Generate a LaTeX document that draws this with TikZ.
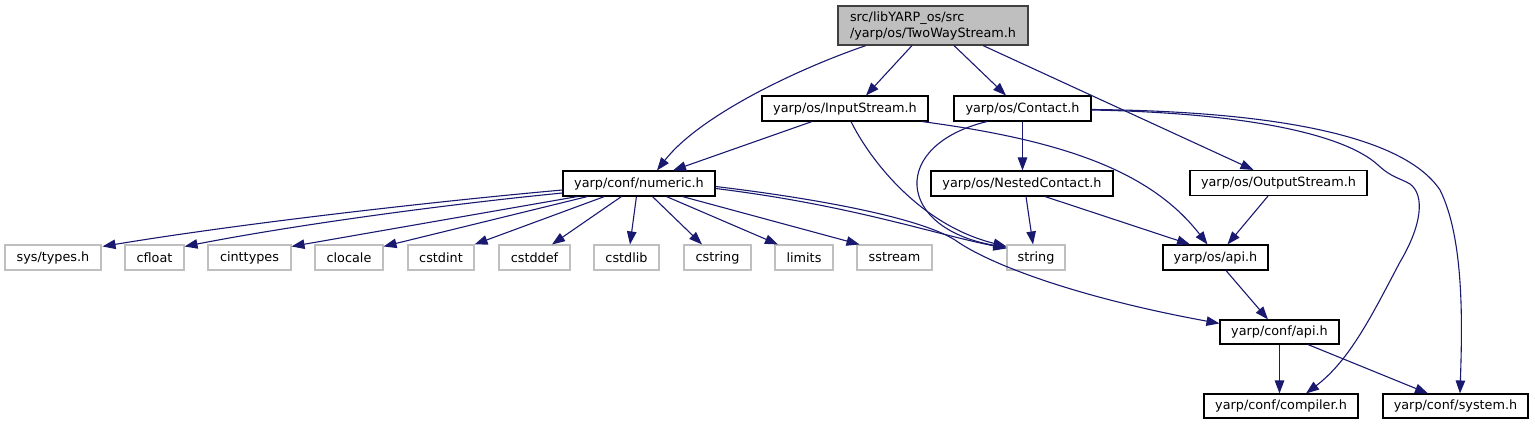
\documentclass[tikz,border=0pt]{standalone}
\usepackage{fontspec}
\setmainfont{DejaVu Sans}
\usetikzlibrary{arrows.meta}
\definecolor{edgecol}{HTML}{191970}
\definecolor{topfill}{HTML}{BFBFBF}
\definecolor{topdraw}{HTML}{404040}
\definecolor{leafdraw}{HTML}{BFBFBF}
\begin{document}
\begin{tikzpicture}[x=1pt,y=-1pt,
  every node/.style={font=\fontsize{12.8pt}{16pt}\selectfont, inner sep=0pt, text=black},
  box/.style={draw=black, line width=1.1pt, minimum height=25pt, fill=white},
  leaf/.style={draw=leafdraw, line width=1.1pt, minimum height=25pt, fill=white},
  topbox/.style={draw=topdraw, fill=topfill, line width=1.1pt, align=left, minimum height=39pt},
  conn/.style={draw=edgecol, line width=1.1pt, -{Triangle[length=13pt,width=9.5pt]}},
]
\useasboundingbox (0,0) rectangle (1535,425);

% nodes
\node[topbox, minimum width=190pt] (top) at (933,25.5) {src/libYARP\_os/src\\/yarp/os/TwoWayStream.h};
\node[box, minimum width=166pt] (inp) at (845,108.5) {yarp/os/InputStream.h};
\node[box, minimum width=137pt] (con) at (1022.5,108.5) {yarp/os/Contact.h};
\node[box, minimum width=152pt] (num) at (639,183.5) {yarp/conf/numeric.h};
\node[box, minimum width=182pt] (nest) at (1022,183.5) {yarp/os/NestedContact.h};
\node[box, minimum width=177pt] (out) at (1278.5,183) {yarp/os/OutputStream.h};

\node[leaf, minimum width=96pt] (sys) at (53,257.5) {sys/types.h};
\node[leaf, minimum width=59pt] (cfloat) at (154.5,257.5) {cfloat};
\node[leaf, minimum width=83pt] (cinttypes) at (249.5,257.5) {cinttypes};
\node[leaf, minimum width=68pt] (clocale) at (349,257.5) {clocale};
\node[leaf, minimum width=66pt] (cstdint) at (441,257.5) {cstdint};
\node[leaf, minimum width=71pt] (cstddef) at (534.5,257.5) {cstddef};
\node[leaf, minimum width=65pt] (cstdlib) at (626.5,257.5) {cstdlib};
\node[leaf, minimum width=67pt] (cstring) at (717.5,257.5) {cstring};
\node[leaf, minimum width=58pt] (limits) at (804,257.5) {limits};
\node[leaf, minimum width=75pt] (sstream) at (894.5,257.5) {sstream};
\node[leaf, minimum width=58pt] (string) at (1036,257.5) {string};

\node[box, minimum width=105pt] (osapi) at (1215.5,257.5) {yarp/os/api.h};
\node[box, minimum width=119pt, minimum height=24pt] (confapi) at (1279.5,332) {yarp/conf/api.h};
\node[box, minimum width=154pt, minimum height=24pt] (compiler) at (1281,406) {yarp/conf/compiler.h};
\node[box, minimum width=145pt, minimum height=24pt] (system) at (1455.5,406) {yarp/conf/system.h};

% edges from top
\draw[conn] ([xshift=-21pt]top.south) -- ([xshift=21pt]inp.north);
\draw[conn] ([xshift=21pt]top.south) -- ([xshift=-16.5pt]con.north);
\draw[conn] ([xshift=-67pt]top.south) .. controls (800,68) and (700,115) .. ([xshift=18pt]num.north);
\draw[conn] ([xshift=50pt]top.south) -- ([xshift=-25pt]out.north);

% InputStream
\draw[conn] ([xshift=-33pt]inp.south) -- ([xshift=34pt]num.north);
\draw[conn] ([xshift=6pt]inp.south) .. controls (870,160) and (920,225) .. ([yshift=-2pt]string.north west);
\draw[conn] ([xshift=77pt]inp.south) .. controls (1060,140) and (1150,170) .. ([xshift=-8pt]osapi.north);

% Contact
\draw[conn] (con.south) -- (con.south |- nest.north);
\draw[conn] ([xshift=-35.5pt]con.south) .. controls (890,145) and (895,228) .. ([yshift=-3pt]string.north west);
\draw[conn] ([yshift=-1.5pt]con.east) .. controls (1250,113) and (1345,135) .. (1378,165)
  .. controls (1392,178) and (1400,178) .. (1410,184)
  .. controls (1425,195) and (1422,225) .. (1400,262)
  .. controls (1372,315) and (1350,360) .. ([xshift=25pt]compiler.north);
\draw[conn] ([yshift=-1pt]con.east) .. controls (1250,111) and (1400,130) .. (1440,190)
  .. controls (1465,240) and (1462,330) .. ([xshift=4.5pt]system.north);

% NestedContact, OutputStream
\draw[conn] ([xshift=4pt]nest.south) -- ([xshift=-3pt]string.north);
\draw[conn] ([xshift=23pt]nest.south) -- ([xshift=-25.5pt]osapi.north);
\draw[conn] ([xshift=-10.5pt]out.south) -- ([xshift=12pt]osapi.north);

% api chain
\draw[conn] ([xshift=10.5pt]osapi.south) -- ([xshift=-11.5pt]confapi.north);
\draw[conn] (confapi.south) -- (confapi.south |- compiler.north);
\draw[conn] ([xshift=28.5pt]confapi.south) -- ([xshift=-27.5pt]system.north);

% numeric
\draw[conn] ([yshift=-6.5pt]num.west) .. controls (450,200) and (250,222) .. ([xshift=1pt,yshift=-2pt]sys.north east);
\draw[conn] ([yshift=-9.5pt]num.west) .. controls (450,204) and (300,224) .. ([yshift=-2pt]cfloat.north east);
\draw[conn] ([xshift=15pt]num.south west) -- ([yshift=-2pt]cinttypes.north east);
\draw[conn] ([xshift=25pt]num.south west) -- ([yshift=-2pt]clocale.north east);
\draw[conn] ([xshift=42pt]num.south west) -- (cstdint.north east);
\draw[conn] ([xshift=59pt]num.south west) -- ([xshift=17.5pt]cstddef.north);
\draw[conn] ([xshift=74pt]num.south west) -- ([xshift=3.5pt]cstdlib.north);
\draw[conn] ([xshift=90pt]num.south west) -- ([xshift=-15.5pt]cstring.north);
\draw[conn] ([xshift=104pt]num.south west) -- ([xshift=-26pt]limits.north);
\draw[conn] ([xshift=120pt]num.south west) -- ([xshift=-35pt]sstream.north);
\draw[conn] ([yshift=-5pt]num.east) .. controls (850,205) and (930,233) .. ([yshift=-4pt]string.north west);
\draw[conn] ([yshift=-3pt]num.east) .. controls (820,199) and (920,218) .. (955,240)
  .. controls (990,265) and (1080,298) .. ([yshift=-4pt]confapi.north west);
\end{tikzpicture}
\end{document}
